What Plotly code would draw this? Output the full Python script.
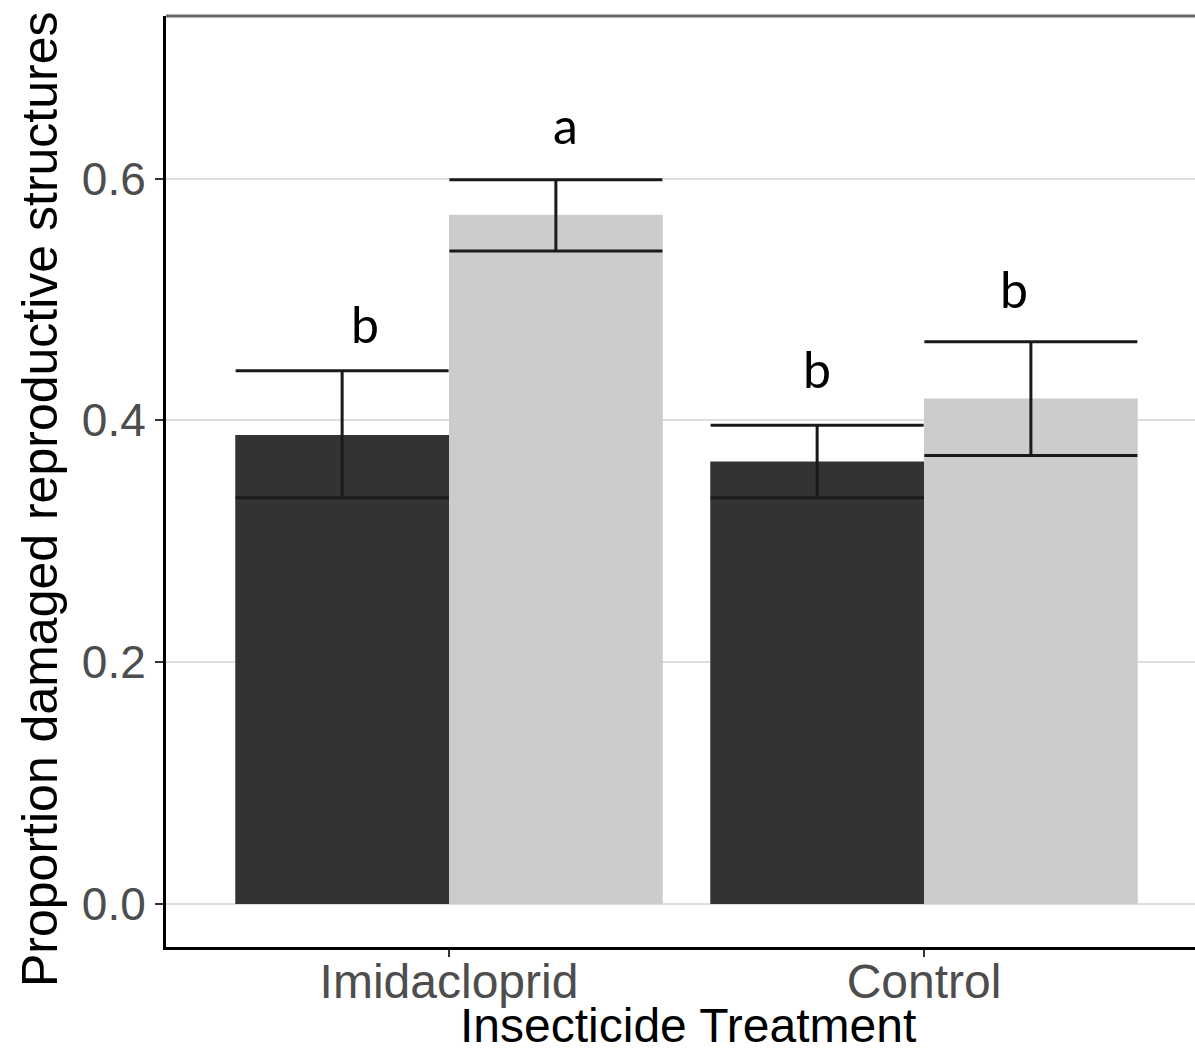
import plotly.graph_objects as go

categories = ["Imidacloprid", "Control"]
series_names = ["Dark", "Light"]
dark_vals = [0.388, 0.366]
dark_err_plus = [0.053, 0.030]
dark_err_minus = [0.052, 0.030]
light_vals = [0.570, 0.418]
light_err_plus = [0.029, 0.047]
light_err_minus = [0.030, 0.047]

letters = ["b", "a", "b", "b"]
letter_x = [-0.177, 0.245, 0.775, 1.19]
letter_y = [0.465, 0.629, 0.428, 0.494]

y_ticks = [0.0, 0.2, 0.4, 0.6]
y_tick_text = ["0.0", "0.2", "0.4", "0.6"]

x_title = "Insecticide Treatment"
y_title = "Proportion damaged reproductive structures"

W, H = 1195, 1052
ML, MR, MT, MB = 166, 0, 16, 105
PH = H - MT - MB
PW = W - ML - MR

fig = go.Figure()
fig.add_trace(go.Bar(
    x=categories, y=dark_vals, name=series_names[0],
    marker=dict(color="#333333", line=dict(width=0)),
    error_y=dict(type="data", array=dark_err_plus, arrayminus=dark_err_minus,
                 symmetric=False, color="#1a1a1a", thickness=3, width=106.5),
))
fig.add_trace(go.Bar(
    x=categories, y=light_vals, name=series_names[1],
    marker=dict(color="#cccccc", line=dict(width=0)),
    error_y=dict(type="data", array=light_err_plus, arrayminus=light_err_minus,
                 symmetric=False, color="#1a1a1a", thickness=3, width=106.5),
))

for t, x, y in zip(letters, letter_x, letter_y):
    fig.add_annotation(x=x, y=y, xref="x", yref="y", text=t, showarrow=False,
                       yanchor="bottom", yshift=-14,
                       font=dict(family="Lato, Liberation Sans, sans-serif", size=50, color="black"))

# axis titles
fig.add_annotation(x=(687.5 - ML) / PW, y=(MT + PH - 1025) / PH, xref="paper", yref="paper",
                   text=x_title, showarrow=False, xanchor="center", yanchor="middle",
                   font=dict(size=48, color="black"))
fig.add_annotation(x=(40 - ML) / PW, y=(MT + PH - 499) / PH, xref="paper", yref="paper",
                   text=y_title, showarrow=False, textangle=-90, xanchor="center", yanchor="middle",
                   font=dict(size=50, color="black"))

fig.add_shape(type="line", xref="paper", yref="paper", x0=0, x1=1, y0=1, y1=1,
              line=dict(color="#666666", width=3))

fig.update_layout(
    width=W, height=H,
    margin=dict(l=ML, r=MR, t=MT, b=MB, pad=0, autoexpand=False),
    paper_bgcolor="white", plot_bgcolor="white",
    barmode="group", bargap=0.1, bargroupgap=0,
    showlegend=False,
    font=dict(family="Liberation Sans, Arial, sans-serif"),
)
fig.update_xaxes(
    type="category", range=[-0.5958, 1.5705], automargin=False,
    showgrid=False, zeroline=False,
    showline=True, linecolor="black", linewidth=3,
    ticks="outside", ticklen=7, tickwidth=2, tickcolor="#333333",
    ticklabelstandoff=-17,
    tickfont=dict(size=48, color="#4d4d4d"),
)
fig.update_yaxes(
    range=[-0.0355, 0.7344], automargin=False,
    tickvals=y_ticks, ticktext=y_tick_text,
    showgrid=True, gridcolor="#dedede", gridwidth=2,
    zeroline=False,
    showline=True, linecolor="black", linewidth=3,
    ticks="outside", ticklen=8, tickwidth=2, tickcolor="#333333",
    tickfont=dict(size=46, color="#4d4d4d"),
)

fig.write_html("out.html")
